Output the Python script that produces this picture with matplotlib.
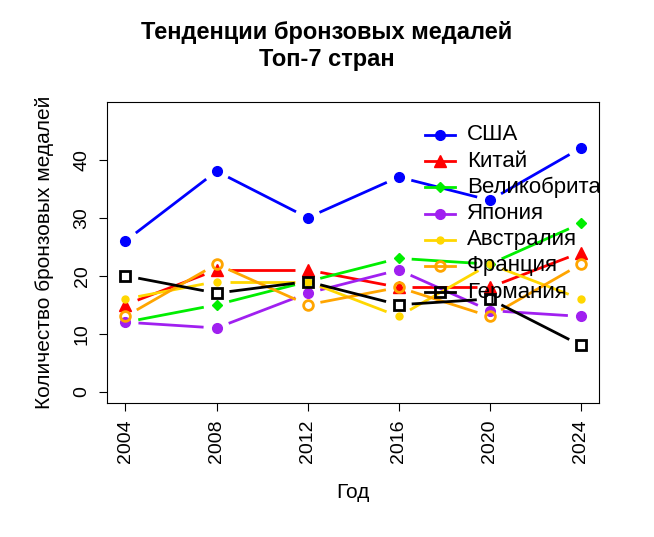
import matplotlib
matplotlib.use("Agg")
import matplotlib.pyplot as plt
import numpy as np

years = [2004, 2008, 2012, 2016, 2020, 2024]
countries = ["США", "Китай", "Великобритания", "Япония", "Австралия", "Франция", "Германия"]
usa = [26, 38, 30, 37, 33, 42]
china = [15, 21, 21, 18, 18, 24]
gb = [12, 15, 19, 23, 22, 29]
japan = [12, 11, 17, 21, 14, 13]
australia = [16, 19, 19, 13, 22, 16]
france = [13, 22, 15, 18, 13, 22]
germany = [20, 17, 19, 15, 16, 8]
series = [usa, china, gb, japan, australia, france, germany]
colors = ["blue", "red", "#00ee00", "#a020f0", "gold", "orange", "black"]
markers = [dict(marker="o", ms=7, mfc=None),
           dict(marker="^", ms=8, mfc=None),
           dict(marker="D", ms=5, mfc=None),
           dict(marker="o", ms=7, mfc=None),
           dict(marker="o", ms=5, mfc=None),
           dict(marker="o", ms=7, mfc="none"),
           dict(marker="s", ms=7, mfc="none")]

plt.rcParams['font.family'] = ['Liberation Sans', 'DejaVu Sans']
fig = plt.figure(figsize=(6.54, 5.37), dpi=100)
ax = fig.add_axes([0.164, 0.2495, 0.752, 0.5605])
ax.set_xlim(2003.2, 2024.8)
ax.set_ylim(-1.92, 49.92)
fig.canvas.draw()
gap = 13  # pixels
for vals, c, m in zip(series, colors, markers):
    pts = ax.transData.transform(np.column_stack([years, vals]))
    inv = ax.transData.inverted()
    for i in range(len(years) - 1):
        p0, p1 = pts[i], pts[i + 1]
        d = p1 - p0
        L = np.hypot(*d)
        if L > 2 * gap:
            a = p0 + d * gap / L
            b = p1 - d * gap / L
            da, db = inv.transform([a, b])
            ax.plot([da[0], db[0]], [da[1], db[1]], color=c, lw=2, solid_capstyle="butt")
    kw = dict(marker=m["marker"], ms=m["ms"], color=c, ls="none")
    if m["mfc"] == "none":
        kw.update(mfc="none", mew=2)
    ax.plot(years, vals, **kw)

ax.set_xticks(years)
ax.set_xticklabels([str(y) for y in years], rotation=90, fontsize=14)
ax.set_yticks([0, 10, 20, 30, 40])
ax.set_yticklabels(["0", "10", "20", "30", "40"], rotation=90, va="center", fontsize=14)
ax.tick_params(length=6, pad=6)
ax.set_xlabel("Год", fontsize=15, labelpad=14)
ax.set_ylabel("Количество бронзовых медалей", fontsize=15, labelpad=14)
fig.suptitle("Тенденции бронзовых медалей\nТоп-7 стран", fontsize=17, fontweight="bold", y=0.96)

# legend drawn manually (R-style, no box), text clipped at plot box
clipbox = ax.bbox
for i, (name, c, m) in enumerate(zip(countries, colors, markers)):
    ypx = 537 - (135 + 26.2 * i)
    y = ypx / 537
    fig.add_artist(plt.Line2D([425 / 654, 455 / 654], [y, y], color=c, lw=2))
    kw = dict(marker=m["marker"], ms=m["ms"], color=c, ls="none")
    if m["mfc"] == "none":
        kw.update(mfc="none", mew=2)
    fig.add_artist(plt.Line2D([440 / 654], [y], **kw))
    t = fig.text(467 / 654, y, name, fontsize=16, va="center", ha="left")
    t.set_clip_box(clipbox)
    t.set_clip_on(True)

fig.savefig("out.png", dpi=100)
